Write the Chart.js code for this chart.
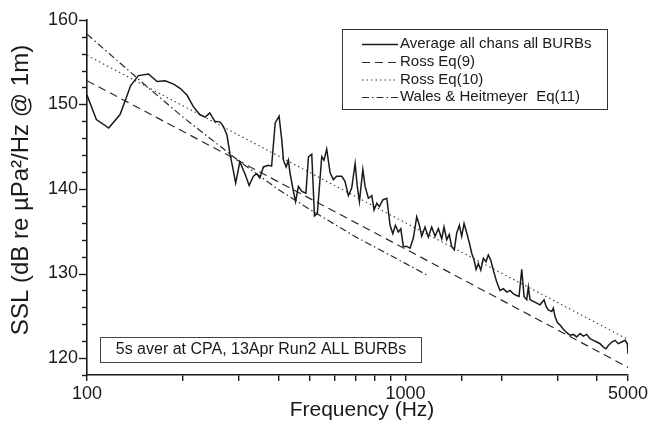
<!DOCTYPE html>
<html>
<head>
<meta charset="utf-8">
<script src="https://cdn.jsdelivr.net/npm/chart.js@4.4.1/dist/chart.umd.min.js"></script>
<style>
  html, body { margin: 0; padding: 0; background: #fff; }
  #wrap { width: 661px; height: 425px; position: relative; }
</style>
</head>
<body>
<div id="wrap"><canvas id="ssl"></canvas></div>
<script>
const avgFreq = [100, 107, 117, 127, 132, 137, 145, 156, 166, 176, 187, 196, 206, 216, 226, 235, 243, 252, 262, 268,
  275, 281, 288, 293, 302, 314, 323, 333, 341, 349, 358, 371, 380, 390, 401, 409, 414, 422, 429, 434,
  445, 452, 461, 473, 487, 496, 508, 518, 529, 546, 555, 566, 580, 594, 608, 631, 646, 662, 678, 695,
  706, 717, 735, 747, 765, 784, 797, 813, 828, 849, 874, 895, 913, 930, 950, 967, 985, 1010, 1034, 1059,
  1085, 1106, 1125, 1152, 1180, 1209, 1239, 1269, 1300, 1322, 1348, 1373, 1397, 1424, 1449, 1477, 1502, 1528, 1558, 1588,
  1615, 1643, 1667, 1694, 1724, 1757, 1791, 1821, 1853, 1888, 1935, 1982, 2030, 2081, 2131, 2183, 2237, 2274, 2319, 2358,
  2404, 2432, 2462, 2521, 2584, 2646, 2725, 2765, 2811, 2881, 2914, 2950, 3000, 3059, 3133, 3211, 3289, 3369, 3451, 3535,
  3621, 3711, 3800, 3892, 3989, 4086, 4183, 4266, 4337, 4445, 4550, 4661, 4776, 4894, 4976, 5000];
const avgLevel = [151.1, 148.2, 147.2, 148.8, 150.5, 152.2, 153.4, 153.6, 152.7, 152.8, 152.4, 151.9, 151.1, 149.7, 148.8, 148.5, 149.0, 148.0, 147.9, 147.4,
  146.4, 144.2, 142.2, 140.7, 143.2, 141.7, 140.4, 141.5, 141.8, 141.3, 142.6, 142.8, 142.7, 147.8, 148.6, 145.8, 143.4, 142.6, 143.4, 141.9,
  139.7, 138.5, 140.3, 139.7, 139.5, 143.8, 144.1, 136.8, 137.1, 143.8, 143.4, 144.7, 141.9, 141.1, 141.5, 141.5, 140.9, 139.2, 140.1, 143.0,
  140.3, 138.5, 142.3, 140.3, 138.9, 139.2, 137.5, 138.3, 137.9, 138.7, 138.9, 135.7, 134.7, 135.7, 134.9, 135.3, 133.2, 133.2, 133.0, 134.2,
  136.7, 135.7, 134.4, 135.5, 134.3, 135.5, 134.4, 135.3, 134.1, 135.5, 134.0, 134.6, 133.2, 132.8, 134.8, 135.7, 134.4, 135.9, 134.8, 133.6,
  132.4, 131.6, 130.5, 131.2, 130.4, 131.8, 131.4, 132.2, 131.6, 130.4, 129.0, 128.0, 128.2, 127.8, 128.0, 127.6, 127.4, 127.3, 130.5, 127.3,
  126.9, 128.4, 126.9, 126.7, 126.5, 126.3, 126.9, 126.1, 125.7, 125.5, 125.9, 124.9, 124.2, 123.9, 123.4, 123.0, 122.7, 122.8, 122.5, 122.9,
  122.6, 122.8, 122.3, 122.1, 121.9, 121.7, 121.3, 121.1, 121.5, 121.9, 122.1, 121.7, 121.9, 122.1, 121.7, 120.5];

// model curves
const rossFreq = [100, 1000, 5000];
const ross9Level = [152.8, 132.9, 118.9];
const ross10Level = [155.8, 136.0, 122.2];
const whFreq = [100, 150, 200, 300, 400, 500, 700, 1000, 1170];
const whLevel = [158.3, 152.5, 148.5, 143.3, 139.9, 137.6, 134.3, 131.2, 129.8];

const xLabels = [100, 1000, 5000];
const yLabels = [120, 130, 140, 150, 160];

const seriesNames = ['Average all chans all BURBs', 'Ross Eq(9)', 'Ross Eq(10)', 'Wales & Heitmeyer  Eq(11)'];
const noteText = '5s aver at CPA, 13Apr Run2 ALL BURBs';

const FONT = '"Liberation Sans", Arial, Helvetica, sans-serif';
const INK = '#1a1a1a';

const xy = (fs, vs) => fs.map((f, i) => ({ x: f, y: vs[i] }));

// titles, legend box, note box and y tick marks
const decor = {
  id: 'decor',
  afterDraw(chart) {
    const { ctx, chartArea: a, scales } = chart;
    const ys = scales.y;
    ctx.save();
    ctx.strokeStyle = INK;
    ctx.fillStyle = INK;

    // y ticks (longer at the labelled ones)
    ctx.lineWidth = 1.4;
    ys.ticks.forEach(t => {
      const py = Math.round(ys.getPixelForValue(t.value)) + 0.5;
      const len = yLabels.includes(t.value) ? 8 : 5;
      ctx.beginPath();
      ctx.moveTo(a.left - len, py);
      ctx.lineTo(a.left, py);
      ctx.stroke();
    });

    // axis titles
    ctx.textAlign = 'center';
    ctx.textBaseline = 'middle';
    ctx.font = `21px ${FONT}`;
    ctx.fillText('Frequency (Hz)', 362, 410);
    ctx.save();
    ctx.translate(21, 190);
    ctx.rotate(-Math.PI / 2);
    ctx.font = `24px ${FONT}`;
    ctx.fillText('SSL (dB re \u00B5Pa\u00B2/Hz @ 1m)', 0, 0);
    ctx.restore();

    // legend
    ctx.lineWidth = 1;
    ctx.strokeStyle = '#333';
    ctx.strokeRect(342.5, 29.5, 265, 80);
    ctx.font = `15px ${FONT}`;
    ctx.textAlign = 'left';
    const rows = [44, 62, 79.5, 97];
    chart.data.datasets.forEach((ds, i) => {
      const ry = rows[i] + 0.5;
      ctx.save();
      ctx.strokeStyle = ds.borderColor;
      ctx.lineWidth = ds.borderWidth;
      ctx.setLineDash(ds.borderDash || []);
      ctx.beginPath();
      ctx.moveTo(362, ry);
      ctx.lineTo(398, ry);
      ctx.stroke();
      ctx.restore();
      ctx.fillText(ds.label, 400, rows[i]);
    });

    // note box
    ctx.strokeStyle = '#444';
    ctx.strokeRect(100.5, 337.5, 321, 25);
    ctx.font = `16px ${FONT}`;
    ctx.textAlign = 'center';
    ctx.fillText(noteText, 261, 350);
    ctx.restore();
  }
};

new Chart(document.getElementById('ssl'), {
  type: 'line',
  data: {
    datasets: [
      { label: seriesNames[0], data: xy(avgFreq, avgLevel), borderColor: INK, borderWidth: 1.5 },
      { label: seriesNames[1], data: xy(rossFreq, ross9Level), borderColor: '#2a2a2a', borderWidth: 1.2, borderDash: [8, 5] },
      { label: seriesNames[2], data: xy(rossFreq, ross10Level), borderColor: '#3a3a3a', borderWidth: 1.1, borderDash: [1.5, 3] },
      { label: seriesNames[3], data: xy(whFreq, whLevel), borderColor: '#2a2a2a', borderWidth: 1.2, borderDash: [7, 3, 1.5, 3] },
    ],
  },
  options: {
    responsive: true,
    maintainAspectRatio: false,
    animation: false,
    events: [],
    layout: { padding: { left: 0, right: 33, top: 19, bottom: 0 } },
    elements: { point: { radius: 0 }, line: { tension: 0, fill: false } },
    plugins: { legend: { display: false }, tooltip: { enabled: false } },
    scales: {
      x: {
        type: 'logarithmic',
        min: 100,
        max: 5000,
        afterFit: s => { s.height = 50; },
        border: { display: true, color: INK, width: 1.6 },
        grid: { drawOnChartArea: false, drawTicks: true, tickLength: 6, color: INK, lineWidth: 1.4 },
        ticks: {
          autoSkip: false,
          maxRotation: 0,
          padding: 2,
          color: INK,
          font: { family: FONT, size: 18 },
          callback: v => xLabels.includes(v) ? String(v) : '',
        },
      },
      y: {
        min: 118,
        max: 160,
        afterFit: s => { s.width = 87; },
        border: { display: true, color: INK, width: 1.6 },
        grid: { drawOnChartArea: false, drawTicks: false },
        ticks: {
          stepSize: 2,
          autoSkip: false,
          padding: 9,
          color: INK,
          font: { family: FONT, size: 18 },
          callback: v => yLabels.includes(v) ? String(v) : '',
        },
      },
    },
  },
  plugins: [decor],
});
</script>
</body>
</html>
